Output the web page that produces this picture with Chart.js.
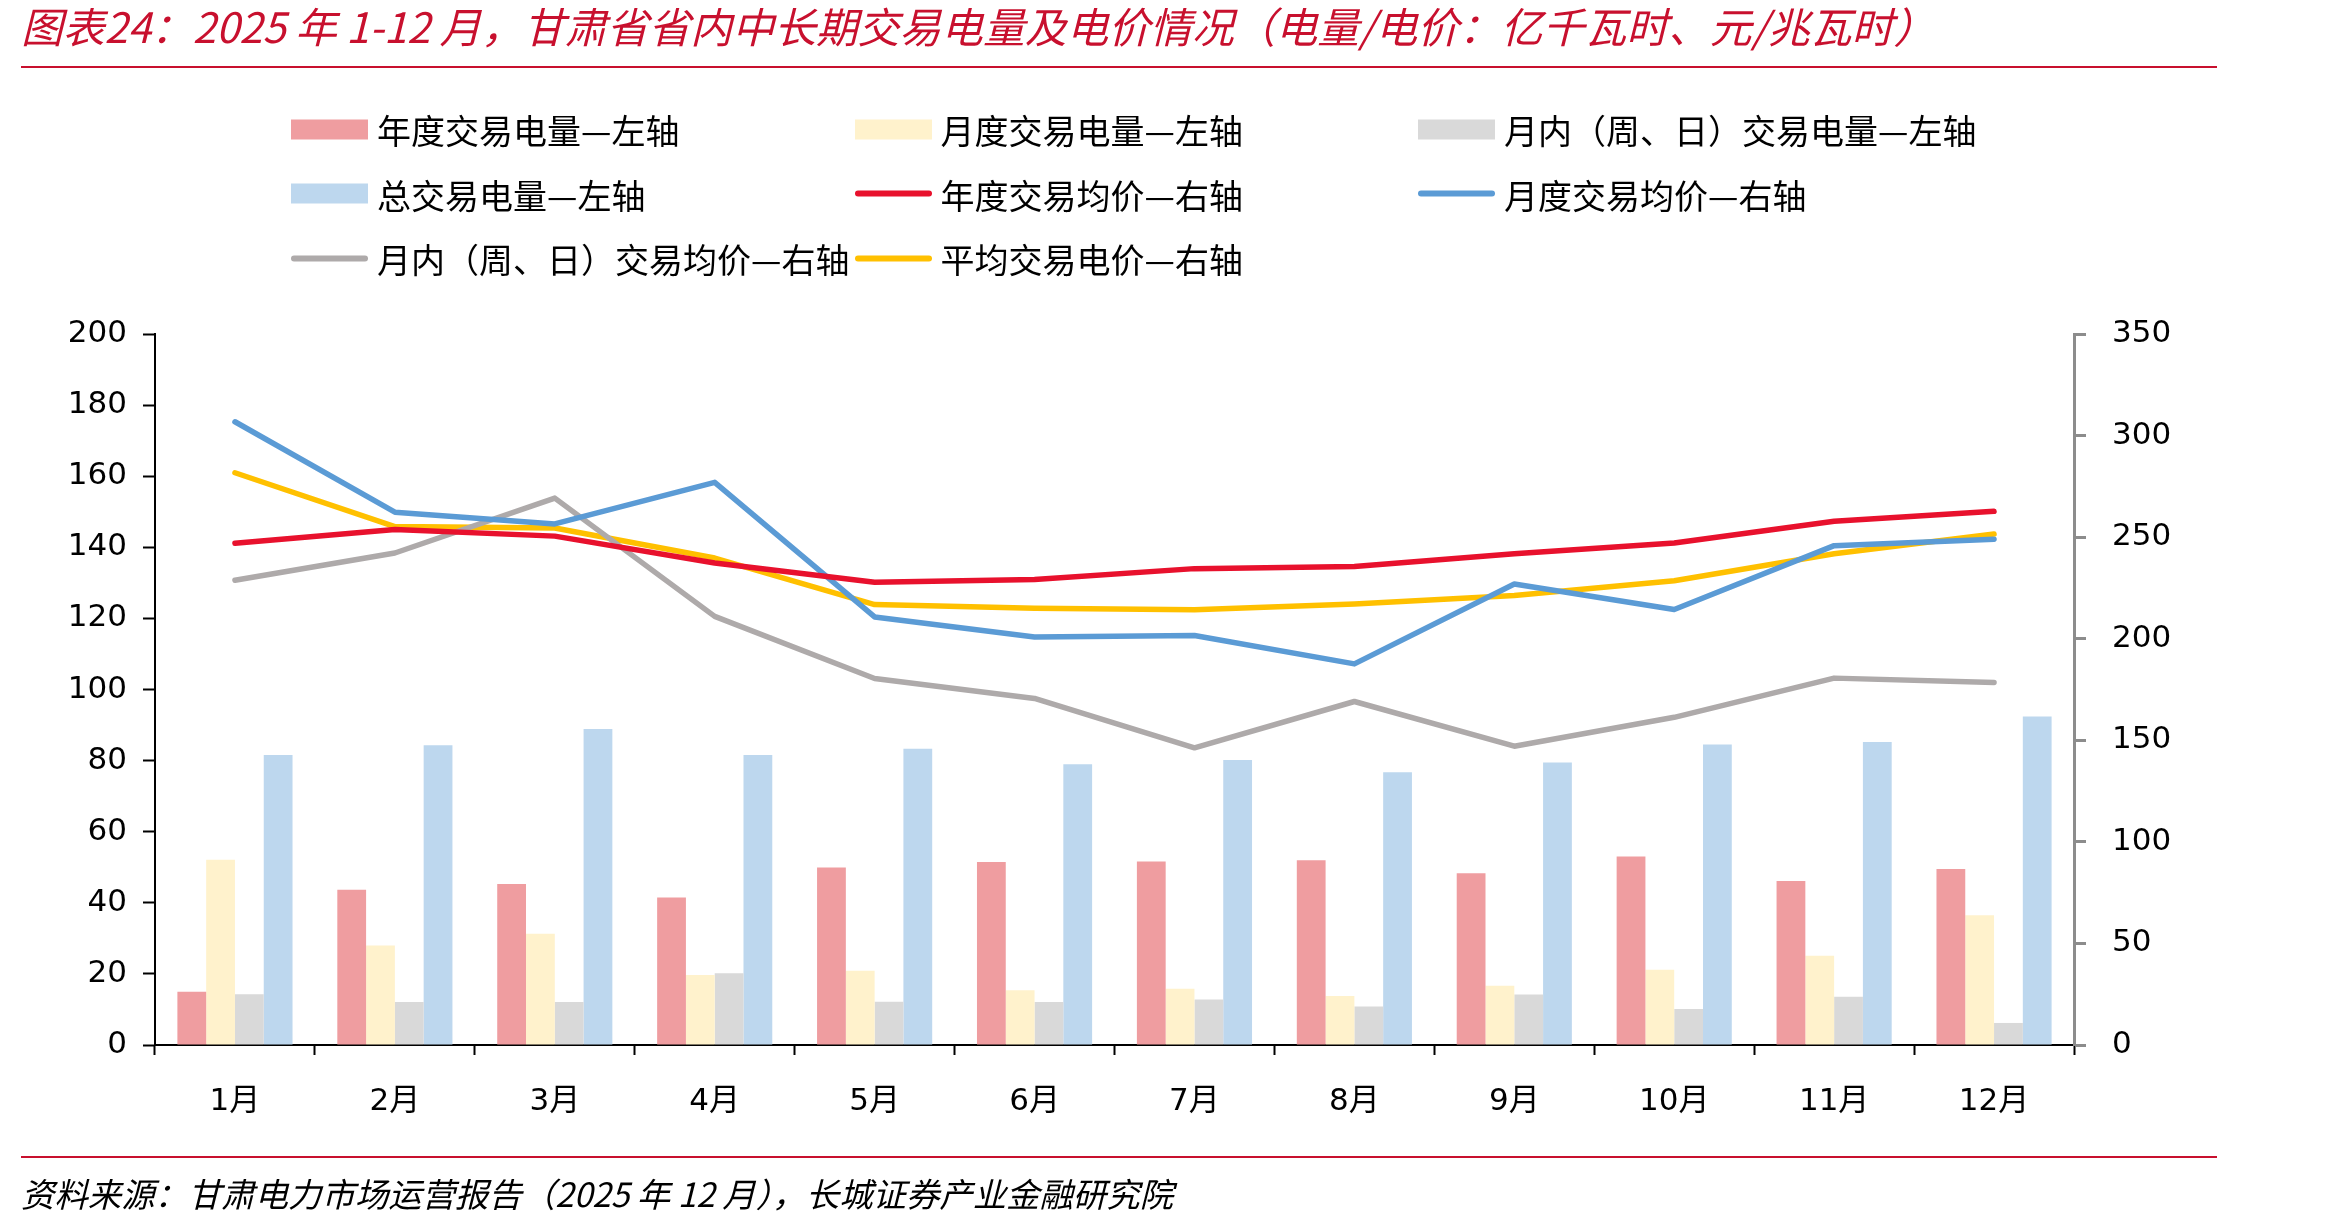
<!DOCTYPE html>
<html>
<head>
<meta charset="utf-8">
<script src="https://cdn.jsdelivr.net/npm/chart.js@4.4.1/dist/chart.umd.min.js"></script>
<style>
  html, body { margin: 0; padding: 0; background: #fff; }
  #page { position: relative; width: 2338px; height: 1223px; overflow: hidden; font-family: "Noto Sans CJK SC", sans-serif; }
  #mainChart { position: absolute; left: 0; top: 0; }
  #title { position: absolute; left: 21px; top: 25px; transform: translateY(-50%); font-size: 41.8px; color: #C8102E; font-style: italic; white-space: nowrap; }
  .rule { position: absolute; left: 21px; width: 2196px; height: 2px; background: #C8102E; }
  #source { position: absolute; left: 21px; top: 1192px; transform: translateY(-50%); font-size: 33.4px; color: #000; font-style: italic; white-space: nowrap; }
  .lg { position: absolute; display: flex; align-items: center; font-size: 34px; color: #000; white-space: nowrap; transform: translateY(-50%); }
  .lg .sw { width: 77px; height: 20px; margin-right: 9px; }
  .lg .ln { width: 77px; height: 6px; border-radius: 3px; margin-right: 9px; }
</style>
</head>
<body>
<div id="page">
  <canvas id="mainChart" width="2338" height="1223"></canvas>
  <div id="title">图表24：2025 年 1-12 月，甘肃省省内中长期交易电量及电价情况（电量/电价：亿千瓦时、元/兆瓦时）</div>
  <div class="rule" style="top:66px"></div>
  <div id="legend"></div>
  <div class="rule" style="top:1156px"></div>
  <div id="source">资料来源：甘肃电力市场运营报告（2025 年 12 月），长城证券产业金融研究院</div>
</div>
<script>
// 数据（电量：亿千瓦时，左轴；电价：元/兆瓦时，右轴）
const months = ["1月","2月","3月","4月","5月","6月","7月","8月","9月","10月","11月","12月"];
const annualVol  = [15.0, 43.7, 45.3, 41.5, 49.9, 51.5, 51.6, 52.0, 48.3, 53.0, 46.1, 49.5];
const monthlyVol = [52.1, 28.0, 31.3, 19.7, 20.9, 15.4, 15.8, 13.8, 16.7, 21.2, 25.1, 36.5];
const intraVol   = [14.3, 12.1, 12.1, 20.2, 12.2, 12.1, 12.8, 10.8, 14.2, 10.1, 13.6, 6.2];
const totalVol   = [81.6, 84.3, 88.9, 81.6, 83.3, 79.0, 80.2, 76.7, 79.5, 84.5, 85.2, 92.4];
const annualPrice  = [247.0, 253.8, 250.5, 237.3, 227.8, 229.2, 234.5, 235.5, 241.8, 247.1, 257.8, 262.7];
const monthlyPrice = [306.8, 262.3, 256.5, 277.0, 210.7, 200.8, 201.6, 187.6, 226.9, 214.4, 245.8, 249.0];
const intraPrice   = [228.8, 242.2, 269.2, 211.0, 180.4, 170.6, 146.3, 169.1, 147.1, 161.3, 180.6, 178.5];
const avgPrice     = [281.7, 255.2, 254.5, 239.7, 216.8, 215.0, 214.3, 217.1, 221.3, 228.5, 241.8, 251.5];
const leftMax = 200, leftStep = 20;
const rightMax = 350, rightStep = 50;

const tickFont = { family: "'DejaVu Sans', 'Noto Sans CJK SC', sans-serif", size: 31 };

function bar(label, data, color){
  return { type: "bar", label, data, backgroundColor: color, yAxisID: "y", order: 2,
           categoryPercentage: 0.72, barPercentage: 1.0 };
}
function line(label, data, color){
  return { type: "line", label, data, borderColor: color, backgroundColor: color, yAxisID: "y1", order: 1,
           borderWidth: 5.5, pointRadius: 0, tension: 0, borderCapStyle: "round", borderJoinStyle: "round" };
}

const datasets = [
  bar("年度交易电量—左轴", annualVol, "#EF9DA0"),
  bar("月度交易电量—左轴", monthlyVol, "#FFF2CC"),
  bar("月内（周、日）交易电量—左轴", intraVol, "#D9D9D9"),
  bar("总交易电量—左轴", totalVol, "#BDD7EE"),
  line("年度交易均价—右轴", annualPrice, "#E8112D"),
  line("月度交易均价—右轴", monthlyPrice, "#5B9BD5"),
  line("月内（周、日）交易均价—右轴", intraPrice, "#AEAAAA"),
  line("平均交易电价—右轴", avgPrice, "#FFC000")
];

// 图例
const lg = document.getElementById("legend");
datasets.forEach((d, i) => {
  const el = document.createElement("div");
  el.className = "lg";
  el.style.left = (291 + (i % 3) * 563.5) + "px";
  el.style.top = (129 + Math.floor(i / 3) * 64.5) + "px";
  const mk = d.type === "bar"
    ? `<span class="sw" style="background:${d.backgroundColor}"></span>`
    : `<span class="ln" style="background:${d.borderColor}"></span>`;
  el.innerHTML = mk + `<span>${d.label}</span>`;
  lg.appendChild(el);
});

new Chart(document.getElementById("mainChart").getContext("2d"), {
  data: { labels: months, datasets },
  options: {
    responsive: false, animation: false, devicePixelRatio: 1,
    layout: { padding: { top: 334, left: 0, right: 0, bottom: 0 } },
    plugins: { legend: { display: false }, tooltip: { enabled: false } },
    scales: {
      x: {
        offset: true,
        grid: { drawOnChartArea: false, offset: true, tickLength: 10, tickWidth: 2, tickColor: "#000" },
        border: { color: "#000", width: 2 },
        ticks: { color: "#000", font: tickFont, padding: 28, maxRotation: 0 },
        afterFit(s){ s.height = 1223 - 1045; }
      },
      y: {
        position: "left", min: 0, max: leftMax,
        grid: { drawOnChartArea: false, tickLength: 12, tickWidth: 2, tickColor: "#000" },
        border: { color: "#000", width: 2 },
        ticks: { stepSize: leftStep, color: "#000", font: tickFont, padding: 16 },
        afterFit(s){ s.width = 155; }
      },
      y1: {
        position: "right", min: 0, max: rightMax,
        grid: { drawOnChartArea: false, tickLength: 12, tickWidth: 3, tickColor: "#8C8C8C" },
        border: { color: "#8C8C8C", width: 3 },
        ticks: { stepSize: rightStep, color: "#000", font: tickFont, padding: 26 },
        afterFit(s){ s.width = 2338 - 2074; }
      }
    }
  }
});
</script>
</body>
</html>
